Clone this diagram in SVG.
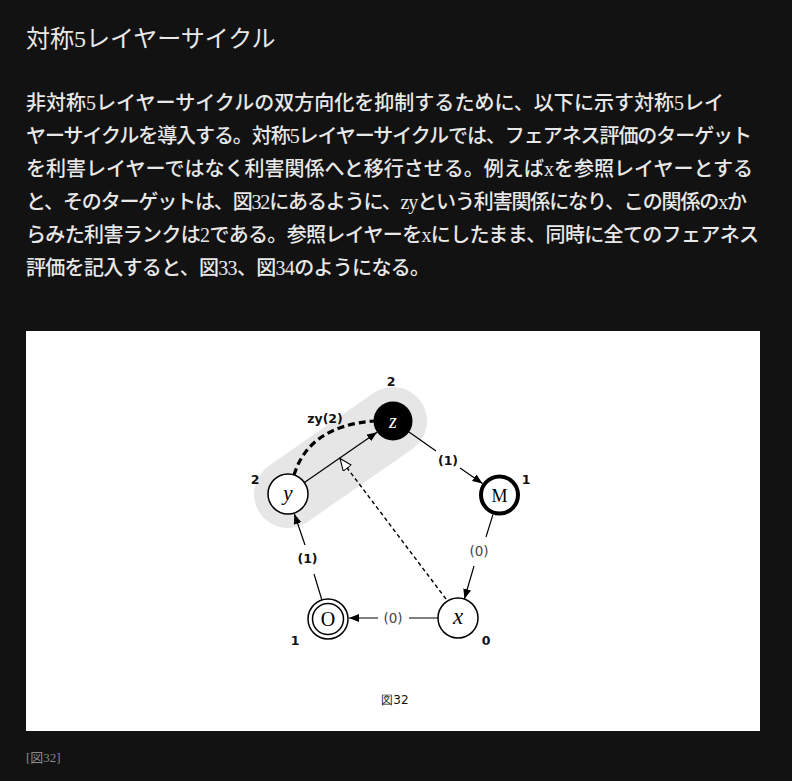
<svg xmlns="http://www.w3.org/2000/svg" width="792" height="781" viewBox="0 0 792 781">
<style>
.txt{font-family:"Liberation Serif","Noto Sans CJK JP",serif;fill:#e8e8e8}
.para{font-size:20px;font-weight:500}
.lbl{font-family:"DejaVu Sans",sans-serif;font-size:12px;fill:#111}
.b{font-weight:bold;font-size:12.5px}
.n{fill:#444;font-size:13.5px}
.node{fill:#fff;stroke:#000;stroke-width:1.5}
.nl{font-family:"Liberation Serif",serif;text-anchor:middle}
.edge{fill:none;stroke:#000;stroke-width:1.2}
</style>
<defs>
<marker id="ah" markerUnits="userSpaceOnUse" markerWidth="11" markerHeight="9" refX="10" refY="4" orient="auto">
<path d="M0,0 L10,4 L0,8 z" fill="#000"/>
</marker>
<marker id="hh" markerUnits="userSpaceOnUse" markerWidth="14" markerHeight="12" refX="12.5" refY="5.5" orient="auto">
<path d="M0.5,0.5 L12.5,5.5 L0.5,10.5 z" fill="#fff" stroke="#000" stroke-width="1.1"/>
</marker>
</defs>
<rect width="792" height="781" fill="#121212"/>
<text class="txt" x="26" y="47" font-size="24">対称5レイヤーサイクル</text>
<g id="paragraph">
<text class="txt para" x="26" y="110" textLength="698" lengthAdjust="spacing">非対称5レイヤーサイクルの双方向化を抑制するために、以下に示す対称5レイ</text>
<text class="txt para" x="26" y="143" textLength="726" lengthAdjust="spacing">ヤーサイクルを導入する。対称5レイヤーサイクルでは、フェアネス評価のターゲット</text>
<text class="txt para" x="26" y="176" textLength="727" lengthAdjust="spacing">を利害レイヤーではなく利害関係へと移行させる。例えばxを参照レイヤーとする</text>
<text class="txt para" x="26" y="209" textLength="721" lengthAdjust="spacing">と、そのターゲットは、図32にあるように、zyという利害関係になり、この関係のxか</text>
<text class="txt para" x="26" y="242" textLength="733" lengthAdjust="spacing">らみた利害ランクは2である。参照レイヤーをxにしたまま、同時に全てのフェアネス</text>
<text class="txt para" x="26" y="275" textLength="404" lengthAdjust="spacing">評価を記入すると、図33、図34のようになる。</text>
</g>
<rect id="figure" x="26" y="331" width="734" height="400" fill="#fff"/>
<g id="highlight">
<line x1="288" y1="494" x2="393" y2="421" stroke="#e6e6e6" stroke-width="68" stroke-linecap="round"/>
</g>
<g id="connectors">
<path class="edge" d="M304.4,482.6 L377,432.3" marker-end="url(#ah)"/>
<path d="M294,475 Q309,426 374,421" fill="none" stroke="#000" stroke-width="3.2" stroke-dasharray="7,4"/>
<path class="edge" d="M409,432 L436,451 M460,468 L482.5,483.5" marker-end="url(#ah)"/>
<path class="edge" d="M493,514.4 L486,537 M474,566 L464.4,599" marker-end="url(#ah)"/>
<path class="edge" d="M438,618 L409,618 M378,618 L349,618" marker-end="url(#ah)"/>
<path class="edge" d="M321.9,600 L314,574 M305,545 L294.4,514" marker-end="url(#ah)"/>
<path d="M446,599 L340,458.5" fill="none" stroke="#000" stroke-width="1.4" stroke-dasharray="4,3" marker-end="url(#hh)"/>
<text class="lbl b" x="325" y="423" text-anchor="middle">zy(2)</text>
<text class="lbl b" x="448" y="465" text-anchor="middle">(1)</text>
<text class="lbl n" x="479" y="556" text-anchor="middle">(0)</text>
<text class="lbl n" x="393" y="623" text-anchor="middle">(0)</text>
<text class="lbl b" x="307.5" y="563" text-anchor="middle">(1)</text>
</g>
<g id="node-z">
<circle cx="393" cy="421" r="19.5" fill="#000"/>
<text class="nl" x="393" y="428" font-size="20" font-style="italic" fill="#fff">z</text>
<text class="lbl b" x="391" y="386" text-anchor="middle">2</text>
</g>
<g id="node-y">
<circle class="node" cx="288" cy="494" r="20"/>
<text class="nl" x="288" y="500" font-size="21" font-style="italic">y</text>
<text class="lbl b" x="255" y="484" text-anchor="middle">2</text>
</g>
<g id="node-M">
<circle cx="499.5" cy="495" r="18.5" fill="#fff" stroke="#000" stroke-width="4"/>
<text class="nl" x="499.5" y="501.5" font-size="18">M</text>
<text class="lbl b" x="526" y="484" text-anchor="middle">1</text>
</g>
<g id="node-x">
<circle class="node" cx="458" cy="618" r="20"/>
<text class="nl" x="458" y="624" font-size="23" font-style="italic">x</text>
<text class="lbl b" x="486" y="645" text-anchor="middle">0</text>
</g>
<g id="node-O">
<circle class="node" cx="328" cy="619" r="20"/>
<circle class="node" cx="328" cy="619" r="15.5" stroke-width="1.2"/>
<text class="nl" x="328" y="626" font-size="20">O</text>
<text class="lbl b" x="295" y="645" text-anchor="middle">1</text>
</g>
<text class="lbl" x="395" y="704" text-anchor="middle" fill="#333">図32</text>
<text class="txt" x="26" y="762" font-size="13" style="fill:#8a8a8a">[図32]</text>
</svg>
